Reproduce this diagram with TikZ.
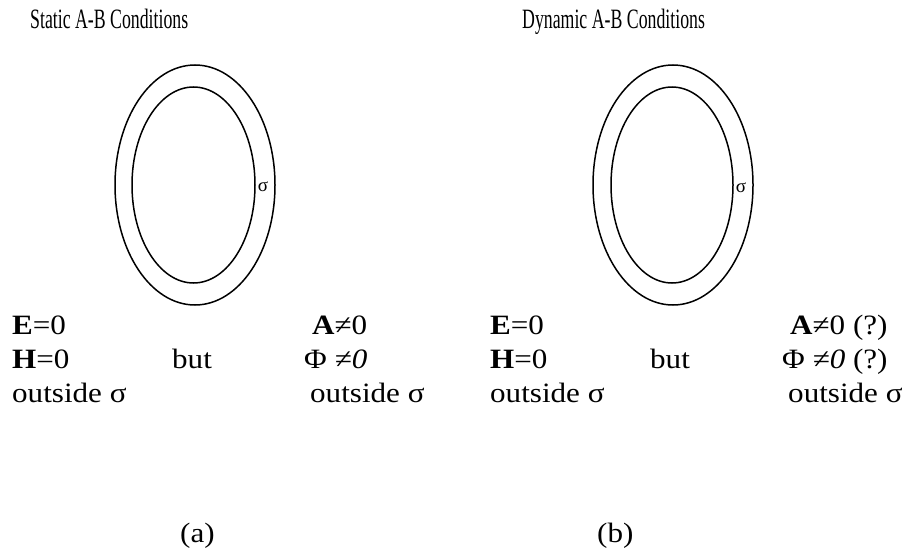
\documentclass[tikz,border=0pt]{standalone}
\usepackage{fontspec}
\setmainfont{Liberation Serif}
\usepackage{graphicx}
\begin{document}
\begin{tikzpicture}[x=1pt,y=-1pt,
  ring/.style={draw=black,line width=1.5pt},
  body/.style={inner sep=0pt,anchor=base west,font=\fontsize{28}{32}\selectfont},
  ttl/.style={inner sep=0pt,anchor=base west,font=\fontsize{28}{32}\selectfont},
  sig/.style={inner sep=0pt,font=\fontsize{19}{22}\selectfont}]
\useasboundingbox (0,0) rectangle (907,551);
\newcommand{\wide}[1]{\scalebox{1.11}[1]{#1}}
\newcommand{\narrow}[1]{\scalebox{0.635}[1]{#1}}
% titles
\node[ttl] (t1) at (30,29) {\narrow{Static A-B Conditions}};
\node[ttl] (t2) at (522,29) {\narrow{Dynamic A-B Conditions}};
% rings
\draw[ring] (195,185) ellipse [x radius=80, y radius=120];
\draw[ring] (193.5,185) ellipse [x radius=61.5, y radius=98];
\node[sig] (s1) at (263,187) {σ};
\draw[ring] (673,185) ellipse [x radius=80, y radius=120];
\draw[ring] (672,185) ellipse [x radius=61, y radius=98];
\node[sig] (s2) at (741,188) {σ};
% left texts
\node[body] (e1) at (12,334) {\wide{\textbf{E}=0}};
\node[body] (h1) at (12,368) {\wide{\textbf{H}=0}};
\node[body] (o1) at (12,402) {\wide{outside σ}};
\node[body] (b1) at (172,368) {\wide{but}};
\node[body] (a1) at (312,334) {\wide{\textbf{A}≠0}};
\node[body] (p1) at (304,368) {\wide{Φ \textit{≠0}}};
\node[body] (o2) at (310,402) {\wide{outside σ}};
% right texts
\node[body] (e2) at (490,334) {\wide{\textbf{E}=0}};
\node[body] (h2) at (490,368) {\wide{\textbf{H}=0}};
\node[body] (o3) at (490,402) {\wide{outside σ}};
\node[body] (b2) at (650,368) {\wide{but}};
\node[body] (a2) at (790,334) {\wide{\textbf{A}≠0 (?)}};
\node[body] (p2) at (782,368) {\wide{Φ \textit{≠0} (?)}};
\node[body] (o4) at (788,402) {\wide{outside σ}};
% captions
\node[body] (ca) at (180,542) {\wide{(a)}};
\node[body] (cb) at (597,542) {\wide{(b)}};
\end{tikzpicture}
\end{document}
